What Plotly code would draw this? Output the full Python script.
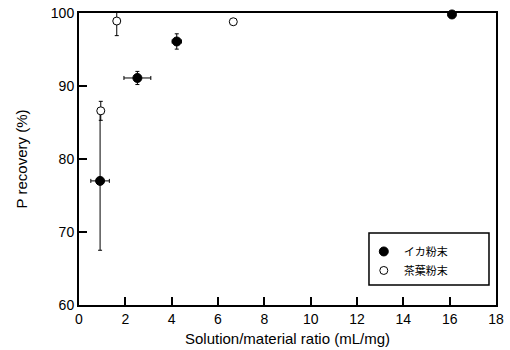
import plotly.graph_objects as go

# イカ粉末 (filled)
squid_x = [0.91, 2.52, 4.22, 16.1]
squid_y = [77.0, 91.1, 96.1, 99.8]
squid_xerr = [0.4, 0.58, 0.2, 0.0]
squid_yerr = [9.5, 0.9, 1.05, 0.0]

# 茶葉粉末 (open)
tea_x = [0.94, 1.63, 6.66]
tea_y = [86.6, 98.9, 98.8]
tea_yerr = [1.3, 2.0, 0.0]

x_ticks = [0, 2, 4, 6, 8, 10, 12, 14, 16, 18]
y_ticks = [60, 70, 80, 90, 100]

FONT = "Liberation Sans, Arial"

fig = go.Figure()
fig.add_trace(go.Scatter(
    x=squid_x, y=squid_y, mode="markers", name="イカ粉末",
    marker=dict(color="black", size=9, line=dict(color="black", width=1)),
    error_x=dict(type="data", array=squid_xerr, color="black", thickness=1, width=2),
    error_y=dict(type="data", array=squid_yerr, color="black", thickness=1, width=2),
    cliponaxis=False,
))
fig.add_trace(go.Scatter(
    x=tea_x, y=tea_y, mode="markers", name="茶葉粉末",
    marker=dict(color="white", size=8, line=dict(color="black", width=1)),
    error_y=dict(type="data", array=tea_yerr, color="black", thickness=1, width=2),
    cliponaxis=False,
))

axis_common = dict(
    showgrid=False, zeroline=False, showline=True, linecolor="black", linewidth=2,
    ticks="inside", ticklen=8, tickwidth=2, tickcolor="black", automargin=False,
    tickfont=dict(family=FONT, size=14, color="black"),
)
fig.update_xaxes(range=[0, 18], tickvals=x_ticks, mirror=True,
                 title=dict(text="Solution/material ratio (mL/mg)", standoff=8,
                            font=dict(family=FONT, size=15, color="black")),
                 **axis_common)
fig.update_yaxes(range=[60, 100], tickvals=y_ticks, mirror=True,
                 title=dict(text="P recovery (%)", standoff=20,
                            font=dict(family=FONT, size=15, color="black")),
                 **axis_common)

# legend frame drawn as a paper-space rectangle
fig.add_shape(type="rect", xref="paper", yref="paper",
              x0=0.6954, x1=0.9832, y0=0.0685, y1=0.2466,
              line=dict(color="black", width=1.5), fillcolor="white", layer="below")

fig.update_layout(
    width=510, height=350,
    margin=dict(l=79, r=14, t=13, b=45),
    plot_bgcolor="white", paper_bgcolor="white",
    showlegend=True,
    legend=dict(x=0.683, y=0.233, xanchor="left", yanchor="top",
                borderwidth=0, bgcolor="rgba(0,0,0,0)",
                font=dict(family="Noto Sans CJK JP", size=11, color="black"),
                itemwidth=30, tracegroupgap=2),
)

fig.write_html("out.html", post_script="document.body.style.margin='0px';",
               config={"displayModeBar": False})
